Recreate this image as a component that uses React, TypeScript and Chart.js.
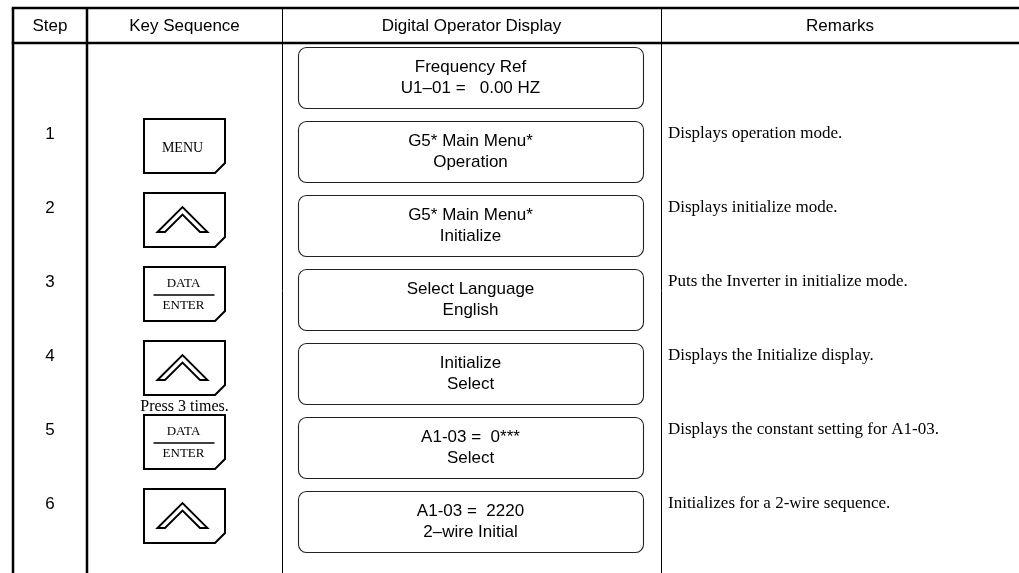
import React, { useEffect, useRef } from "react";
import { Chart, registerables } from "chart.js";
Chart.register(...registerables);

// ---- table content ----
const headers = ["Step", "Key Sequence", "Digital Operator Display", "Remarks"];
const steps = ["", "1", "2", "3", "4", "5", "6"];
const keys = ["", "MENU", "UP", "DATA/ENTER", "UP", "DATA/ENTER", "UP"];
const keyNotes = ["", "", "", "", "Press 3 times.", "", ""];
const displayLine1 = [
  "Frequency Ref",
  "G5* Main Menu*",
  "G5* Main Menu*",
  "Select Language",
  "Initialize",
  "A1-03 =  0***",
  "A1-03 =  2220",
];
const displayLine2 = [
  "U1\u201301 =   0.00 HZ",
  "Operation",
  "Initialize",
  "English",
  "Select",
  "Select",
  "2\u2013wire Initial",
];
const remarks = [
  "",
  "Displays operation mode.",
  "Displays initialize mode.",
  "Puts the Inverter in initialize mode.",
  "Displays the Initialize display.",
  "Displays the constant setting for A1-03.",
  "Initializes for a 2-wire sequence.",
];

// ---- layout constants ----
const W = 1019;
const H = 573;
const columnEdges = [13, 87, 282, 661, 1019];
const ROW_PITCH = 74;
const ROW0_Y = 57;

const SANS = "'Liberation Sans', Arial, sans-serif";
const SERIF = "'Liberation Serif', 'Times New Roman', serif";

const tablePlugin = {
  id: "tablePlugin",
  beforeDraw(chart: any) {
    const ctx = chart.ctx;
    ctx.save();
    ctx.fillStyle = "#fff";
    ctx.fillRect(0, 0, chart.width, chart.height);
    ctx.restore();
  },
  afterDraw(chart: any) {
    const ctx: CanvasRenderingContext2D = chart.ctx;
    const xs = chart.scales.x;
    const ys = chart.scales.y;
    const X = (v: number) => xs.getPixelForValue(v);
    const Y = (r: number) => ys.getPixelForValue(r);
    const top = 8;
    const headBottom = 43;
    const bottom = H;

    ctx.save();
    ctx.strokeStyle = "#000";
    ctx.fillStyle = "#000";

    const line = (x1: number, y1: number, x2: number, y2: number, w: number) => {
      ctx.beginPath();
      ctx.lineWidth = w;
      ctx.moveTo(x1, y1);
      ctx.lineTo(x2, y2);
      ctx.stroke();
    };

    // grid
    const xl = X(columnEdges[0]);
    const xr = X(columnEdges[4]);
    line(xl - 1.25, top, xr, top, 2.5);
    line(xl - 1.25, headBottom, xr, headBottom, 2.5);
    line(xl, top, xl, bottom, 2.5);
    line(X(columnEdges[1]), top, X(columnEdges[1]), bottom, 2.5);
    line(X(columnEdges[2]) + 0.5, top, X(columnEdges[2]) + 0.5, bottom, 1);
    line(X(columnEdges[3]) + 0.5, top, X(columnEdges[3]) + 0.5, bottom, 1);

    // headers
    ctx.textAlign = "center";
    ctx.textBaseline = "middle";
    ctx.font = `17px ${SANS}`;
    headers.forEach((h, i) => {
      const cx = (X(columnEdges[i]) + X(columnEdges[i + 1])) / 2;
      ctx.fillText(h, cx, 26);
    });

    const stepCx = (X(columnEdges[0]) + X(columnEdges[1])) / 2;
    const keyCx = (X(columnEdges[1]) + X(columnEdges[2])) / 2;
    const boxX = 298;
    const boxW = 345;
    const boxH = 61;
    const dispCx = boxX + boxW / 2;
    const keyW = 81;
    const keyH = 54;

    for (let r = 0; r < steps.length; r++) {
      const y = Y(r);
      // step number
      if (steps[r]) {
        ctx.font = `17px ${SANS}`;
        ctx.textAlign = "center";
        ctx.fillText(steps[r], stepCx, y + 3);
      }
      // display box
      ctx.lineWidth = 1.1;
      ctx.strokeStyle = "#222";
      ctx.beginPath();
      (ctx as any).roundRect(boxX + 0.5, y - 10 + 0.5, boxW, boxH, 8);
      ctx.stroke();
      ctx.strokeStyle = "#000";
      ctx.font = `17px ${SANS}`;
      ctx.textAlign = "center";
      ctx.fillText(displayLine1[r], dispCx, y + 10);
      ctx.fillText(displayLine2[r], dispCx, y + 31);

      // key
      const k = keys[r];
      if (k) {
        const kx0 = keyCx - keyW / 2;
        const ky0 = y - 12;
        const kx1 = kx0 + keyW;
        const ky1 = ky0 + keyH;
        const c = 10;
        ctx.lineWidth = 2;
        ctx.beginPath();
        ctx.moveTo(kx0, ky0);
        ctx.lineTo(kx1, ky0);
        ctx.lineTo(kx1, ky1 - c);
        ctx.lineTo(kx1 - c, ky1);
        ctx.lineTo(kx0, ky1);
        ctx.closePath();
        ctx.stroke();
        if (k === "MENU") {
          ctx.font = `14px ${SERIF}`;
          ctx.fillText("MENU", keyCx - 2, ky0 + 29);
        } else if (k === "DATA/ENTER") {
          ctx.font = `13px ${SERIF}`;
          ctx.fillText("DATA", keyCx - 1, ky0 + 17);
          ctx.fillText("ENTER", keyCx - 1, ky0 + 39);
          line(keyCx - 31, ky0 + 28, keyCx + 30, ky0 + 28, 1.5);
        } else if (k === "UP") {
          const ax = keyCx - 2;
          const ay = ky0 + 14;
          const by = ky0 + 39;
          const hw = 25;
          const d = 7.5;
          ctx.lineWidth = 1.9;
          ctx.lineJoin = "miter";
          ctx.beginPath();
          ctx.moveTo(ax - hw, by);
          ctx.lineTo(ax, ay);
          ctx.lineTo(ax + hw, by);
          ctx.lineTo(ax + hw - d, by);
          ctx.lineTo(ax, ay + d);
          ctx.lineTo(ax - hw + d, by);
          ctx.closePath();
          ctx.stroke();
        }
      }
      if (keyNotes[r]) {
        ctx.font = `16px ${SERIF}`;
        ctx.textAlign = "center";
        ctx.fillText(keyNotes[r], keyCx, y + 54);
      }
      // remarks
      if (remarks[r]) {
        ctx.font = `17px ${SERIF}`;
        ctx.textAlign = "left";
        ctx.fillText(remarks[r], X(columnEdges[3]) + 7, y + 3);
      }
    }
    ctx.restore();
  },
};

export default function App() {
  const ref = useRef<HTMLCanvasElement>(null);
  useEffect(() => {
    document.body.style.margin = "0";
    const canvas = ref.current!;
    const chart = new Chart(canvas, {
      type: "scatter",
      data: {
        datasets: [
          {
            label: "steps",
            data: steps.map((_, i) => ({ x: (columnEdges[0] + columnEdges[1]) / 2, y: i })),
            pointRadius: 0,
          },
        ],
      },
      options: {
        animation: false,
        responsive: false,
        devicePixelRatio: 1,
        layout: { padding: 0 },
        events: [],
        plugins: { legend: { display: false }, tooltip: { enabled: false } },
        scales: {
          x: { type: "linear", display: false, min: 0, max: W },
          y: {
            type: "linear",
            display: false,
            reverse: true,
            min: -ROW0_Y / ROW_PITCH,
            max: (H - ROW0_Y) / ROW_PITCH,
          },
        },
      },
      plugins: [tablePlugin],
    } as any);
    return () => chart.destroy();
  }, []);
  return <canvas ref={ref} width={W} height={H} style={{ display: "block" }} />;
}
